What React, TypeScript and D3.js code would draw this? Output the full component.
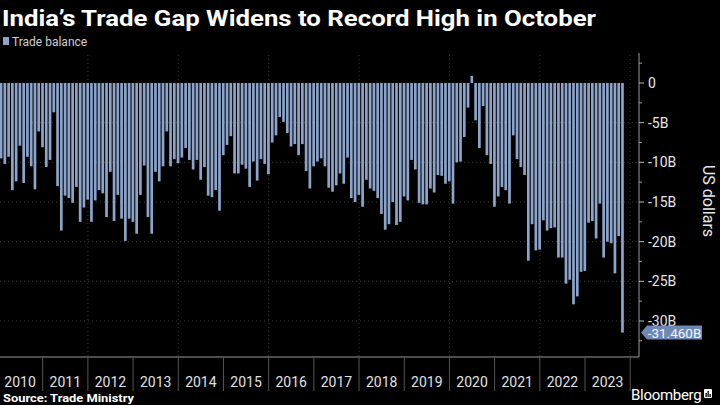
import React from "react";
import * as d3 from "d3";

const title = "India\u2019s Trade Gap Widens to Record High in October";
const legendLabel = "Trade balance";
const source = "Source: Trade Ministry";
const yAxisTitle = "US dollars";
const lastLabel = "-31.460B";

const years = ["2010","2011","2012","2013","2014","2015","2016","2017","2018","2019","2020","2021","2022","2023"];

// Monthly trade balance, billions USD
const v2010 = [-9.5, -10.2, -9.3, -13.5, -12.4, -7.9, -12.6, -9.3, -10.5, -13.4, -6.1, -8.1];
const v2011 = [-10.6, -9.7, -3.7, -13.0, -18.6, -14.2, -14.5, -15.1, -13.1, -17.5, -15.7, -14.7];
const v2012 = [-17.5, -14.8, -13.5, -13.9, -16.9, -11.2, -17.4, -14.1, -17.1, -19.9, -17.1, -17.5];
const v2013 = [-19.0, -14.1, -10.4, -16.9, -19.0, -11.2, -12.4, -10.5, -6.1, -10.5, -9.6, -10.1];
const v2014 = [-9.4, -8.2, -9.7, -10.9, -9.7, -12.2, -10.6, -14.2, -14.4, -13.5, -16.1, -9.1];
const v2015 = [-7.8, -6.7, -11.4, -11.4, -10.3, -10.8, -13.1, -9.9, -12.3, -9.6, -10.2, -11.5];
const v2016 = [-7.5, -6.6, -4.3, -4.9, -6.3, -8.0, -7.7, -9.1, -7.7, -11.1, -13.3, -10.5];
const v2017 = [-9.9, -9.5, -10.5, -13.2, -13.7, -12.9, -11.4, -12.7, -9.4, -14.5, -15.0, -14.1];
const v2018 = [-15.6, -12.2, -13.3, -13.6, -14.5, -16.5, -18.5, -17.8, -15.0, -17.9, -17.5, -14.3];
const v2019 = [-14.8, -9.7, -10.9, -15.1, -15.3, -15.3, -13.3, -13.8, -11.6, -11.7, -12.7, -12.4];
const v2020 = [-15.2, -10.0, -9.9, -6.8, -3.1, 0.9, -4.7, -8.2, -2.9, -9.1, -10.2, -15.6];
const v2021 = [-14.3, -13.1, -13.5, -15.2, -6.6, -9.6, -10.6, -11.6, -22.4, -17.8, -21.1, -21.0];
const v2022 = [-17.3, -18.6, -18.3, -18.2, -22.0, -22.0, -25.3, -24.8, -27.9, -26.9, -23.8, -23.7];
const v2023 = [-17.6, -17.4, -19.6, -15.2, -22.0, -20.0, -20.2, -24.0, -19.3, -31.46];

const yTicks = [0, -5, -10, -15, -20, -25, -30];
const yTickLabels = ["0", "-5B", "-10B", "-15B", "-20B", "-25B", "-30B"];

const values = [
  ...v2010, ...v2011, ...v2012, ...v2013, ...v2014, ...v2015, ...v2016,
  ...v2017, ...v2018, ...v2019, ...v2020, ...v2021, ...v2022, ...v2023,
];

const W = 720;
const H = 405;
const FONT = "Roboto, 'Noto Sans', sans-serif";
const BAR = "#8da4ca";

export default function App() {
  const x = d3.scaleLinear().domain([0, 168]).range([-2.5, 630.2]);
  const y = d3.scaleLinear().domain([0, -30]).range([83, 321]);
  const axisX = 639;
  const barW = 2.7;

  const minorTicks = d3.range(2.5, -33, -2.5).filter((t) => Math.abs(t % 5) > 0.1);
  const lastIdx = values.length - 1;
  const lastY = y(values[lastIdx]);

  return (
    <svg width={W} height={H} style={{ position: "absolute", left: 0, top: 0, background: "#000" }}>
      <rect x={0} y={0} width={W} height={H} fill="#000" />
      <text x={2} y={26} fill="#fff" fontFamily={FONT} fontWeight={700} fontSize={22} textLength={594} lengthAdjust="spacingAndGlyphs">
        {title}
      </text>
      <rect x={3} y={37} width={6} height={8} fill={BAR} />
      <text x={12} y={46} fill="#cfcfcf" fontFamily={FONT} fontSize={12}>{legendLabel}</text>

      {/* horizontal gridlines */}
      {yTicks.slice(1).map((t) => (
        <line key={"hg" + t} x1={0} x2={axisX} y1={y(t)} y2={y(t)} stroke="#3c3c3c" strokeWidth={1} strokeDasharray="1,3" />
      ))}
      {/* vertical gridlines every 2 years */}
      {d3.range(24, 169, 24).map((m) => (
        <line key={"vg" + m} x1={x(m)} x2={x(m)} y1={55} y2={356} stroke="#3c3c3c" strokeWidth={1} strokeDasharray="1,3" />
      ))}

      {/* bars */}
      {values.map((v, i) => {
        const cx = x(i + 1) - 0.2;
        const y0 = y(0);
        const y1 = y(v);
        return (
          <rect key={i} x={cx - barW / 2} y={Math.min(y0, y1)} width={barW} height={Math.abs(y1 - y0)} fill={BAR} />
        );
      })}

      {/* right axis */}
      <line x1={axisX} x2={axisX} y1={53} y2={357} stroke="#9a9a9a" strokeWidth={1} />
      {yTicks.map((t, k) => (
        <g key={"yt" + t}>
          <line x1={axisX} x2={axisX + 5} y1={y(t)} y2={y(t)} stroke="#bbb" />
          <text x={axisX + 9} y={y(t) + 5} fill="#e6e6e6" fontFamily={FONT} fontSize={14}>{yTickLabels[k]}</text>
        </g>
      ))}
      {minorTicks.map((t) => (
        <line key={"mt" + t} x1={axisX} x2={axisX + 3} y1={y(t)} y2={y(t)} stroke="#999" />
      ))}
      <text transform={`translate(703,201) rotate(90)`} textAnchor="middle" fill="#e6e6e6" fontFamily={FONT} fontSize={16}>
        {yAxisTitle}
      </text>

      {/* last value label */}
      <path
        d={`M${axisX + 2},${lastY} L${axisX + 8},${lastY - 7} L${axisX + 63},${lastY - 7} L${axisX + 63},${lastY + 7} L${axisX + 8},${lastY + 7} Z`}
        fill="#6f88b3"
      />
      <text x={axisX + 35.5} y={lastY + 5} textAnchor="middle" fill="#f2f5fa" fontFamily={FONT} fontSize={13.5}>{lastLabel}</text>

      {/* bottom axis */}
      <line x1={0} x2={axisX} y1={357} y2={357} stroke="#999" />
      {years.map((yr, k) => (
        <g key={yr}>
          <line x1={x(12 * (k + 1))} x2={x(12 * (k + 1))} y1={357} y2={391} stroke="#555" />
          <text x={(x(12 * k) + x(12 * (k + 1))) / 2} y={387} textAnchor="middle" fill="#e0e0e0" fontFamily={FONT} fontSize={14}>
            {yr}
          </text>
        </g>
      ))}

      <text x={3} y={402} fill="#fff" fontFamily={FONT} fontWeight={700} fontSize={11.5} textLength={131} lengthAdjust="spacingAndGlyphs">{source}</text>
      <text x={631} y={400} fill="#fff" fontFamily={FONT} fontSize={15} letterSpacing={-0.3}>Bloomberg</text>
      <rect x={704} y={389} width={8} height={9} rx={1} fill="#fff" />
      <rect x={705.5} y={393} width={1.3} height={4} fill="#000" />
      <rect x={707.5} y={391} width={1.3} height={6} fill="#000" />
      <rect x={709.5} y={394} width={1.3} height={3} fill="#000" />
    </svg>
  );
}
